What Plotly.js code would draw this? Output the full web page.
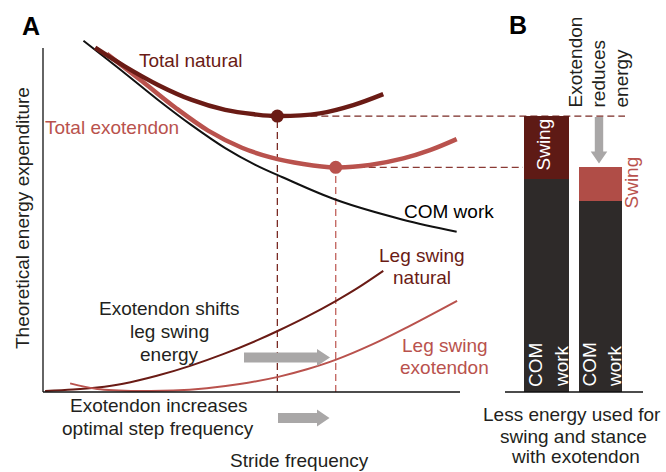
<!DOCTYPE html>
<html><head><meta charset="utf-8">
<script src="https://cdn.plot.ly/plotly-3.0.1.min.js"></script>
<style>html,body{margin:0;padding:0;background:#fff}</style>
</head><body>
<div id="chart" style="width:666px;height:472px"></div>
<script>
// ---- data (arbitrary energy units) ----
const strideNat = [1.25, 1.97, 2.77, 3.57, 4.37, 5.08, 5.62, 6.64, 7.44, 8.16];
const totalNat  = [10.01, 9.46, 8.92, 8.49, 8.20, 8.07, 8.02, 8.10, 8.34, 8.66];
const strideExo = [1.53, 2.37, 3.17, 3.96, 4.77, 5.44, 6.24, 7.02, 7.84, 8.64, 9.28, 9.92];
const totalExo  = [9.83, 9.04, 8.27, 7.60, 7.10, 6.83, 6.63, 6.53, 6.60, 6.79, 7.03, 7.35];
const strideCom = [0.97, 1.97, 2.76, 3.57, 4.37, 5.08, 5.73, 7.04, 8.63, 9.92];
const comWork   = [10.21, 9.26, 8.49, 7.75, 7.09, 6.61, 6.25, 5.58, 5.01, 4.66];
const strideLegNat = [0.05, 0.72, 1.30, 1.92, 2.73, 3.53, 4.32, 5.13, 5.64, 6.33, 7.03, 7.53, 8.16];
const legNat       = [0.03, 0.07, 0.13, 0.24, 0.47, 0.76, 1.10, 1.50, 1.78, 2.19, 2.65, 3.01, 3.52];
const strideLegExo = [0.65, 1.30, 2.33, 3.12, 3.93, 4.72, 5.64, 6.33, 7.03, 7.91, 8.73, 9.93];
const legExo       = [0.25, 0.09, 0.03, 0.04, 0.11, 0.23, 0.44, 0.66, 0.94, 1.39, 1.88, 2.65];
const barConditions = [1, 2];           // natural, exotendon
const barCom   = [6.19, 5.55];
const barSwing = [1.83, 0.98];

// ---- layout geometry ----
const W = 666, H = 472;
const FONT = 'Liberation Sans, Arial, Helvetica, sans-serif';
const C_NAT = '#6a1b15', C_EXO = '#b9524d', C_TXT = '#231f20', C_COM = '#2e2a29', C_GRAY = '#a9a7a7';
const X0PX = 43, XS = 41.7, Y0PX = 392, YS = 34.4;   // pixel mapping of axis A
const xr = [-0.3, 10.6], yr = [-0.4, 10.6];
const xdom = [(X0PX + XS * xr[0]) / W, (X0PX + XS * xr[1]) / W];
const ydom = [(H - (Y0PX - YS * yr[0])) / H, (H - (Y0PX - YS * yr[1])) / H];
const x2dom = [505 / W, 643 / W];
const x2r = [0.2315, 0.2315 + 138 / 54];
const px = v => v / W, py = v => 1 - v / H;
const xToPaper = x => xdom[0] + (x - xr[0]) / (xr[1] - xr[0]) * (xdom[1] - xdom[0]);

function argmin(a) { let k = 0; a.forEach((v, i) => { if (v < a[k]) k = i; }); return k; }
const kN = argmin(totalNat), kE = argmin(totalExo);
const minNat = {x: strideNat[kN], y: totalNat[kN]};
const minExo = {x: strideExo[kE], y: totalExo[kE]};

const traces = [
  {x: strideCom, y: comWork, mode: 'lines', line: {color: '#111', width: 2, shape: 'spline'}},
  {x: strideLegNat, y: legNat, mode: 'lines', line: {color: C_NAT, width: 2, shape: 'spline'}},
  {x: strideLegExo, y: legExo, mode: 'lines', line: {color: C_EXO, width: 2, shape: 'spline'}},
  {x: strideExo, y: totalExo, mode: 'lines', line: {color: C_EXO, width: 4.5, shape: 'spline'}},
  {x: strideNat, y: totalNat, mode: 'lines', line: {color: C_NAT, width: 4.5, shape: 'spline'}},
  {x: [minNat.x, minExo.x], y: [minNat.y, minExo.y], mode: 'markers',
   marker: {size: 13, color: [C_NAT, C_EXO]}},
  {type: 'bar', x: barConditions, y: barCom, xaxis: 'x2', yaxis: 'y', width: [0.833, 0.796],
   marker: {color: C_COM, line: {width: 0}}},
  {type: 'bar', x: barConditions, y: barSwing, xaxis: 'x2', yaxis: 'y', width: [0.833, 0.796],
   marker: {color: ['#5e1a15', '#b04d47'], line: {width: 0}}}
];

const dashSpec = '7px,4px';
const shapes = [
  {type: 'line', xref: 'x', yref: 'y', x0: 0, x1: 0, y0: 0, y1: 10, line: {color: '#111', width: 1.3}},
  {type: 'line', xref: 'x', yref: 'y', x0: 0, x1: 10, y0: 0, y1: 0, line: {color: '#111', width: 1.3}},
  {type: 'line', xref: 'x2 domain', yref: 'y', x0: 0, x1: 1, y0: 0, y1: 0, line: {color: '#111', width: 1.3}},
  {type: 'line', layer: 'below', xref: 'x', yref: 'y', x0: minNat.x, x1: minNat.x, y0: 0, y1: minNat.y,
   line: {color: '#7a2a24', width: 1.3, dash: dashSpec}},
  {type: 'line', layer: 'below', xref: 'x', yref: 'y', x0: minExo.x, x1: minExo.x, y0: 0, y1: minExo.y,
   line: {color: '#c0605a', width: 1.3, dash: dashSpec}},
  {type: 'line', layer: 'below', xref: 'paper', yref: 'y', x0: xToPaper(minNat.x), x1: px(625), y0: minNat.y, y1: minNat.y,
   line: {color: '#7a2a24', width: 1.3, dash: dashSpec}},
  {type: 'line', layer: 'below', xref: 'paper', yref: 'y', x0: xToPaper(minExo.x), x1: px(523), y0: minExo.y, y1: minExo.y,
   line: {color: '#8a3a34', width: 1.3, dash: dashSpec}}
];

function hArrow(xs, xh, xt, yc) {
  const p = `M${px(xs)},${py(yc - 5)} L${px(xh)},${py(yc - 5)} L${px(xh)},${py(yc - 8.5)} L${px(xt)},${py(yc)} ` +
            `L${px(xh)},${py(yc + 8.5)} L${px(xh)},${py(yc + 5)} L${px(xs)},${py(yc + 5)} Z`;
  return {type: 'path', xref: 'paper', yref: 'paper', path: p, fillcolor: C_GRAY, line: {width: 0}};
}
function vArrow(xc, ys, yh, yt) {
  const p = `M${px(xc - 4.2)},${py(ys)} L${px(xc - 4.2)},${py(yh)} L${px(xc - 8.3)},${py(yh)} L${px(xc)},${py(yt)} ` +
            `L${px(xc + 8.3)},${py(yh)} L${px(xc + 4.2)},${py(yh)} L${px(xc + 4.2)},${py(ys)} Z`;
  return {type: 'path', xref: 'paper', yref: 'paper', path: p, fillcolor: C_GRAY, line: {width: 0}};
}
shapes.push(hArrow(244, 317, 330, 357.5));
shapes.push(hArrow(278, 317, 329.5, 418));
shapes.push(vArrow(599, 117, 151.5, 163.5));

const FS = 19;
function ann(text, x, y, o = {}) {
  return Object.assign({
    text: text, xref: 'paper', yref: 'paper', x: px(x), y: py(y), showarrow: false,
    xanchor: 'center', yanchor: 'middle',
    font: {family: FONT, size: o.size || FS, color: o.color || C_TXT}
  }, o.extra || {});
}
const annotations = [
  ann('<b>A</b>', 30.5, 26, {size: 25, color: '#000'}),
  ann('<b>B</b>', 517.5, 25, {size: 25, color: '#000'}),
  ann('Total natural', 190.5, 60, {color: C_NAT}),
  ann('Total exotendon', 45, 127, {color: C_EXO, extra: {xanchor: 'left', x: px(43)}}),
  ann('COM work', 449, 211, {color: '#000'}),
  ann('Leg swing', 421.5, 255, {color: C_NAT}),
  ann('natural', 421.5, 277, {color: C_NAT}),
  ann('Leg swing', 444.5, 345, {color: C_EXO}),
  ann('exotendon', 444.5, 367, {color: C_EXO}),
  ann('Exotendon shifts', 169, 308),
  ann('leg swing', 169, 331),
  ann('energy', 169, 354),
  ann('Exotendon increases', 158, 405),
  ann('optimal step frequency', 158, 428),
  ann('Stride frequency', 299, 460),
  ann('Theoretical energy expenditure', 22, 218, {extra: {textangle: -90}}),
  ann('Exotendon', 575, 110, {extra: {textangle: -90, yanchor: 'bottom'}}),
  ann('reduces', 597.5, 110, {extra: {textangle: -90, yanchor: 'bottom'}}),
  ann('energy', 621, 110, {extra: {textangle: -90, yanchor: 'bottom'}}),
  ann('Swing', 543.5, 145, {color: '#fff', extra: {textangle: -90}}),
  ann('Swing', 631.5, 183, {color: C_EXO, extra: {textangle: -90}}),
  ann('COM', 535, 389, {color: '#fff', extra: {textangle: -90, yanchor: 'bottom'}}),
  ann('work', 561, 389, {color: '#fff', extra: {textangle: -90, yanchor: 'bottom'}}),
  ann('COM', 588.5, 389, {color: '#fff', extra: {textangle: -90, yanchor: 'bottom'}}),
  ann('work', 614, 389, {color: '#fff', extra: {textangle: -90, yanchor: 'bottom'}}),
  ann('Less energy used for', 571.5, 414),
  ann('swing and stance', 573, 436),
  ann('with exotendon', 575, 456)
];

const hidden = {showgrid: false, zeroline: false, showline: false, showticklabels: false, ticks: ''};
const layout = {
  width: W, height: H, autosize: false,
  margin: {l: 0, r: 0, t: 0, b: 0, pad: 0},
  paper_bgcolor: '#fff', plot_bgcolor: 'rgba(0,0,0,0)',
  showlegend: false, barmode: 'stack',
  font: {family: FONT, size: FS, color: C_TXT},
  xaxis: Object.assign({domain: xdom, range: xr, anchor: 'y'}, hidden),
  yaxis: Object.assign({domain: ydom, range: yr, anchor: 'x'}, hidden),
  xaxis2: Object.assign({domain: x2dom, range: x2r, anchor: 'y'}, hidden),
  shapes: shapes,
  annotations: annotations
};
Plotly.newPlot('chart', traces, layout, {staticPlot: true, displayModeBar: false});
</script>
</body></html>
